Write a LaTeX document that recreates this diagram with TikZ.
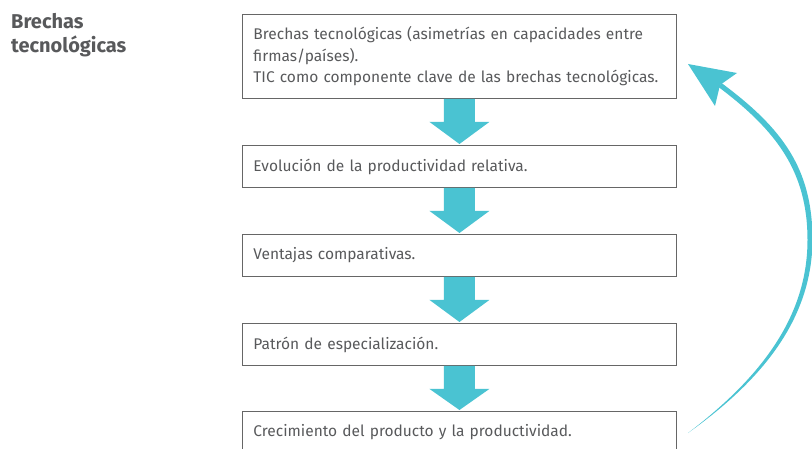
\documentclass[tikz,border=0pt]{standalone}
\usepackage{fontspec}
\setmainfont{Fira Sans}
\usetikzlibrary{calc}
\definecolor{txtgray}{HTML}{58595B}
\definecolor{boxgray}{HTML}{666666}
\definecolor{tealc}{HTML}{4AC3D2}
\newcommand\myblockarrow[2]{%
  \fill[tealc] ([xshift=-15.5pt]#1.south) -- ([xshift=-15.5pt,yshift=-23pt]#1.south)
    -- ([xshift=-30pt,yshift=-23pt]#1.south) -- ([yshift=1pt]#2.north)
    -- ([xshift=30pt,yshift=-23pt]#1.south) -- ([xshift=15.5pt,yshift=-23pt]#1.south)
    -- ([xshift=15.5pt]#1.south) -- cycle;}
\begin{document}
\begin{tikzpicture}[x=1pt,y=-1pt,
  stepbox/.style={draw=boxgray, line width=0.9pt, rectangle, minimum width=434pt,
    minimum height=42pt, text width=412pt, inner xsep=11pt, inner ysep=0pt,
    align=left, anchor=north west, font=\fontsize{15.5}{21.5}\selectfont, text=txtgray},
  titletext/.style={anchor=north west, font=\fontsize{20}{24}\selectfont\bfseries,
    text=txtgray, align=left, inner sep=0pt}]
\useasboundingbox (0,0) rectangle (812,449);
\node[titletext] (title) at (11,13) {Brechas\\tecnológicas};
\node[stepbox, minimum height=84pt] (b1) at (242,14) {Brechas tecnológicas (asimetrías en capacidades entre\\firmas/países).\\TIC como componente clave de las brechas tecnológicas.};
\node[stepbox] (b2) at (242,145) {Evolución de la productividad relativa.};
\node[stepbox] (b3) at (242,234) {Ventajas comparativas.};
\node[stepbox] (b4) at (242,323) {Patrón de especialización.};
\node[stepbox] (b5) at (242,411) {Crecimiento del producto y la productividad.};
\myblockarrow{b1}{b2}
\myblockarrow{b2}{b3}
\myblockarrow{b3}{b4}
\myblockarrow{b4}{b5}
\coordinate (cstart) at (688,433);
\coordinate (ctip) at (688,64);
\fill[tealc] (cstart) .. controls (761,381) and (812,320) .. (812.5,240)
  .. controls (812.5,168) and (782,128) .. (721.5,83)
  -- (718.5,87) .. controls (777,131) and (807.5,172) .. (807.5,240)
  .. controls (807.5,318) and (759,379) .. (cstart) -- cycle;
\fill[tealc] (ctip) -- (737,73) -- (720,85) -- (715,106) -- cycle;
\end{tikzpicture}
\end{document}
